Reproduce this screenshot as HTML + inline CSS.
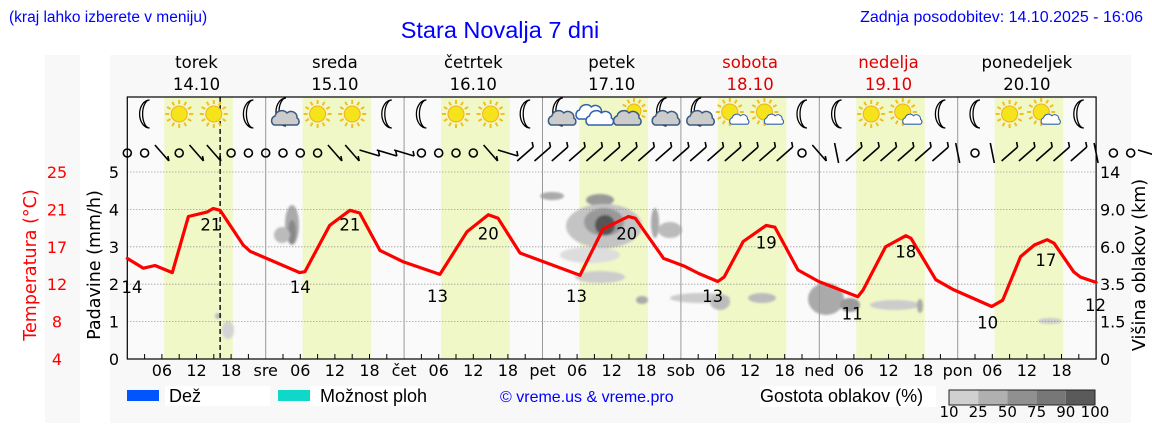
<!DOCTYPE html>
<html><head><meta charset="utf-8"><style>
html,body{margin:0;padding:0;background:#fff;}
svg{display:block;}
text{font-family:"DejaVu Sans","Liberation Sans",sans-serif;}
.lib{font-family:"Liberation Sans",sans-serif;}
</style></head><body>
<svg id="chart" width="1152" height="443" viewBox="0 0 1152 443" xmlns="http://www.w3.org/2000/svg">
<defs><filter id="bl" x="-50%" y="-50%" width="200%" height="200%"><feGaussianBlur stdDeviation="1"/></filter></defs>
<rect x="0" y="0" width="1152" height="443" fill="#fff"/>
<rect x="45" y="55" width="35" height="368" fill="#f8f8f8"/>
<rect x="110" y="55" width="1021" height="368" fill="#f8f8f8"/>
<text class="lib" x="9" y="22" font-size="15.5" fill="#0000ff">(kraj lahko izberete v meniju)</text>
<text class="lib" x="500" y="38" font-size="23.5" fill="#0000ff" text-anchor="middle">Stara Novalja 7 dni</text>
<text class="lib" x="1143" y="22" font-size="16" fill="#0000ff" text-anchor="end">Zadnja posodobitev: 14.10.2025 - 16:06</text>
<g id="bands"></g>
<g id="clouds" filter="url(#bl)"></g>
<g id="grid"></g>
<g id="icons"></g>
<g id="wind"></g>
<g id="axes"></g>
<g id="series"></g>
<g id="legend"></g>
</svg>
<script>
// ---- data ----
const dayNames = ["torek","sreda","četrtek","petek","sobota","nedelja","ponedeljek"];
const dayDates = ["14.10","15.10","16.10","17.10","18.10","19.10","20.10"];
const dayAbbr = ["","sre","čet","pet","sob","ned","pon"];
const weekend = [false,false,false,false,true,true,false];
const rainTicks = [0,1,2,3,4,5];
const tempTicks = [25,21,17,12,8,4];
const cloudTicks = ["14","9.0","6.0","3.5","1.5","0"];
const tempHours = [0,2.8,4.8,7.8,10.6,13.8,14.9,16.1,20.1,21.3,29.9,30.8,35.1,38.6,40.3,43.8,47.9,54.2,58.9,62.6,64.3,68.1,78.5,82.5,86.9,88.1,93.0,96.7,99.1,102.4,103.5,106.8,110.8,112.3,116.3,119.9,126.7,127.6,131.5,135.0,135.9,140.2,143.2,149.9,151.8,154.9,157.3,159.5,160.7,164.1,165.3,168];
const temps = [15.3,14.2,14.5,13.7,20.0,20.5,20.9,20.7,16.8,16.1,13.7,13.8,19.0,20.7,20.4,16.2,14.9,13.5,18.3,20.2,19.8,15.9,13.4,18.6,20.0,19.8,15.3,14.4,13.6,12.7,13.2,17.2,19.0,18.8,14.0,12.7,11.0,11.75,16.6,17.85,17.55,12.9,11.8,9.9,10.6,15.5,16.8,17.4,17.0,13.8,13.2,12.6];
const labelHours = [0.8,14.5,30,38.6,53.8,62.6,77.9,86.6,101.5,110.8,125.7,135,149.2,159.3,167.9];
const labelVals = [14,21,14,21,13,20,13,20,13,19,11,18,10,17,12];
const iconKinds = ["moon","sun","sun","moon","mooncloud","sun","sun","moon","moon","sun","sun","moon","mooncloud","cloud","suncloud","mooncloud","mooncloud","sunsmall","sunsmall","moon","moon","sun","sunsmall","moon","moon","sun","sunsmall","moon"];
const windKinds = "oo\\o\\\\oooooo\\\\---oooo\\-////////////////o\\|//////|o|/////|oo-o";
const nowHour = 16.1;

// ---- scales ----
const X0 = 127.3, DAYW = 138.4, YTOP = 172, YBOT = 359, PTOP = 97, XR = X0 + 7*DAYW;
const hx = h => X0 + h*DAYW/24;
const ry = v => YBOT - v*(YBOT-YTOP)/5;
const ty = t => YTOP + (25-t)*(YBOT-YTOP)/21;
const NS = "http://www.w3.org/2000/svg";
function mk(parent, tag, attrs, txt){const e=document.createElementNS(NS,tag);for(const k in attrs)e.setAttribute(k,attrs[k]);if(txt!==undefined)e.textContent=txt;document.getElementById(parent).appendChild(e);return e;}

let e = mk("bands","rect",{x:X0,y:PTOP,width:XR-X0,height:YBOT-PTOP,fill:"#fafafa"});


for(let d=0; d<7; d++){
  e = mk("bands","rect",{x:hx(d*24+6.4),y:PTOP,width:hx(d*24+18.3)-hx(d*24+6.4),height:YBOT-PTOP,fill:"#f0f8c8"});
  
  
}
const blobs=[[292,225,7,20,"#aaa"],[292,232,4,12,"#888"],[282,235,8,8,"#bbb"],[228,330,6,9,"#d4d4d4"],[218,316,3,3,"#bbb"],
[552,196,12,4,"#aaa"],[600,200,14,6,"#999"],[604,226,38,22,"#c4c4c4"],[604,222,20,14,"#999"],[605,225,10,10,"#555"],[590,255,30,8,"#ddd"],[600,277,25,6,"#ccc"],[655,223,4,15,"#aaa"],[670,230,12,8,"#bbb"],
[700,298,30,5,"#ccc"],[720,302,10,8,"#bbb"],[762,298,14,5,"#bbb"],[826,299,18,16,"#aaa"],[850,305,10,7,"#999"],[895,305,25,5,"#ccc"],[920,306,3,7,"#aaa"],[1050,321,12,3,"#ccc"],[642,300,6,4,"#aaa"]];
blobs.forEach(b=>{e=mk("clouds","ellipse",{cx:b[0],cy:b[1],rx:b[2],ry:b[3],fill:b[4]});

});

for(let v=1; v<=5; v++){
  e = mk("grid","line",{x1:X0,x2:XR,y1:ry(v),y2:ry(v),stroke:"#777","stroke-dasharray":"1,2","stroke-width":0.8});
  
  
}
for(let d=1; d<7; d++){
  e = mk("grid","line",{x1:hx(d*24),x2:hx(d*24),y1:PTOP,y2:YBOT,stroke:"#999","stroke-width":1});
  
  
}
e = mk("grid","line",{x1:hx(nowHour),x2:hx(nowHour),y1:PTOP,y2:YBOT,stroke:"#222","stroke-width":1.6,"stroke-dasharray":"5,3"});



function moon(g,cx,cy){mk(g,"path",{d:`M${cx+5},${cy-14} A10,14 0 1,0 ${cx+5},${cy+14} A7,14 0 1,1 ${cx+5},${cy-14}Z`,fill:"#fff",stroke:"#000","stroke-width":1.3});}
function sun(g,cx,cy,r){for(let i=0;i<12;i++){const a=i*Math.PI/6;mk(g,"line",{x1:cx+Math.cos(a)*(r+2),y1:cy+Math.sin(a)*(r+2),x2:cx+Math.cos(a)*(r+6),y2:cy+Math.sin(a)*(r+6),stroke:"#f0c020","stroke-width":2});}
mk(g,"circle",{cx:cx,cy:cy,r:r,fill:"#f5e41c",stroke:"#f0b020","stroke-width":1});}
function cloud(g,cx,cy,s,fill,stroke){
  const grp=mk(g,"g",{transform:`translate(${cx},${cy}) scale(${s})`});
  const p=document.createElementNS(NS,"path");
  p.setAttribute("d","M-12,6 a5,5 0 0,1 1,-9 a7,7 0 0,1 12,-3 a6,6 0 0,1 10,5 a4,4 0 0,1 0,7 Z");
  p.setAttribute("fill",fill);p.setAttribute("stroke",stroke);p.setAttribute("stroke-width",1.5);
  grp.appendChild(p);}
iconKinds.forEach((k,i)=>{
  const cx=hx(i*6+3), cy=114;
  const gid="ic"+i;
  const g=mk("icons","g",{id:gid});
  
  
  if(k==="moon") moon(gid,cx,cy);
  else if(k==="sun") sun(gid,cx,cy,8);
  else if(k==="mooncloud"){moon(gid,cx-2,cy-2);cloud(gid,cx+3,cy+5,1,"#ccc","#3a5a80");}
  else if(k==="cloud"){cloud(gid,cx-4,cy-1,1,"#fff","#3060b0");cloud(gid,cx+6,cy+5,1,"#fff","#3060b0");}
  else if(k==="suncloud"){sun(gid,cx+5,cy-3,7);cloud(gid,cx-1,cy+5,1,"#ccc","#3a5a80");}
  else if(k==="sunsmall"){sun(gid,cx-3,cy-2,8);cloud(gid,cx+7,cy+6,0.7,"#fff","#3060b0");}
});

for(let i=0;i<windKinds.length;i++){
  const c=windKinds[i], cx=hx(i*3), cy=153;
  let g;
  if(c==="o") g=mk("wind","circle",{cx:cx,cy:cy,r:4,fill:"none",stroke:"#000","stroke-width":1.6});
  else{
    let a={"\\":[-7,-8,7,8],"/":[-8,8,8,-6],"-":[-10,-3,10,3],"|":[-2,-10,2,10]}[c];
    g=mk("wind","path",{d:`M${cx+a[0]},${cy+a[1]} L${cx+a[2]},${cy+a[3]} M${cx+a[2]},${cy+a[3]} l-1,-5`,stroke:"#000","stroke-width":1.6,fill:"none"});
  }
  
  
}

e=mk("axes","rect",{x:X0,y:PTOP,width:XR-X0,height:YBOT-PTOP,fill:"none",stroke:"#000","stroke-width":1.2});


for(let d=0; d<7; d++){
  const cx=hx(d*24+12);
  e=mk("axes","text",{x:cx,y:68,"font-size":16.5,"text-anchor":"middle",fill:weekend[d]?"#e00000":"#000"},dayNames[d]);
  
  
  e=mk("axes","text",{x:cx,y:90,"font-size":16.5,"text-anchor":"middle",fill:weekend[d]?"#e00000":"#000"},dayDates[d]);
  
  
  for(let h=3; h<24; h+=3){
    mk("axes","line",{x1:hx(d*24+h),x2:hx(d*24+h),y1:YBOT,y2:YBOT-5,stroke:"#000","stroke-width":1});
    if(h%6===0){
      e=mk("axes","text",{x:hx(d*24+h),y:376,"font-size":16,"text-anchor":"middle"},h<10?"0"+h:""+h);
      
      
    }
  }
  if(dayAbbr[d]){
    e=mk("axes","text",{x:hx(d*24),y:376,"font-size":16,"text-anchor":"middle"},dayAbbr[d]);
    
    
  }
}
rainTicks.forEach(v=>{
  e=mk("axes","text",{x:119,y:ry(v)+6,"font-size":16,"text-anchor":"end"},""+v);
  
  
});
tempTicks.forEach((v,i)=>{
  e=mk("axes","text",{x:57,y:ry(5-i)+6,"font-size":16,"text-anchor":"middle",fill:"#ff0000"},""+v);
  
  
});
cloudTicks.forEach((v,i)=>{
  e=mk("axes","text",{x:1100,y:ry(5-i)+6,"font-size":16},v);
  
  
});
e=mk("axes","text",{x:0,y:0,"font-size":17.5,fill:"#ff0000","text-anchor":"middle",transform:"translate(36,265) rotate(-90)"},"Temperatura (°C)");


e=mk("axes","text",{x:0,y:0,"font-size":17.5,"text-anchor":"middle",transform:"translate(100,265) rotate(-90)"},"Padavine (mm/h)");


e=mk("axes","text",{x:0,y:0,"font-size":17.5,"text-anchor":"middle",transform:"translate(1145,265) rotate(-90)"},"Višina oblakov (km)");



const pts = tempHours.map((h,i)=>hx(h).toFixed(1)+","+ty(temps[i]).toFixed(1)).join(" ");
e=mk("series","polyline",{points:pts,fill:"none",stroke:"#ff0000","stroke-width":3.2,"stroke-linejoin":"round","stroke-linecap":"round"});


labelHours.forEach((h,i)=>{
  e=mk("series","text",{x:hx(h),y:ty(labelVals[i])+23,"font-size":16.5,"text-anchor":"middle"},""+labelVals[i]);
  
  
});

e=mk("legend","rect",{x:127,y:390,width:32,height:11,fill:"#0055ff"});


mk("legend","rect",{x:165,y:386,width:105,height:20,fill:"#fff"});
e=mk("legend","text",{x:169,y:402,"font-size":18,class:"lib"},"Dež");


e=mk("legend","rect",{x:278,y:390,width:32,height:11,fill:"#10d8c8"});


mk("legend","rect",{x:310,y:386,width:110,height:20,fill:"#fff"});
e=mk("legend","text",{x:320,y:402,"font-size":18,class:"lib"},"Možnost ploh");


e=mk("legend","text",{x:500,y:402,"font-size":16,class:"lib",fill:"#0000ff"},"© vreme.us & vreme.pro");


mk("legend","rect",{x:760,y:386,width:176,height:21,fill:"#fff"});
e=mk("legend","text",{x:760,y:402,"font-size":18,class:"lib"},"Gostota oblakov (%)");


const cbCols=["#d0d0d0","#b0b0b0","#909090","#777","#5a5a5a"], cbLab=["10","25","50","75","90","100"];
cbCols.forEach((c,i)=>{e=mk("legend","rect",{x:949+i*29.2,y:390,width:29.2,height:15,fill:c});

});
mk("legend","rect",{x:949,y:390,width:146,height:15,fill:"none",stroke:"#222","stroke-width":1});
cbLab.forEach((l,i)=>{e=mk("legend","text",{x:949+i*29.2,y:417,"font-size":15,"text-anchor":"middle"},l);

});
</script>
</body></html>
